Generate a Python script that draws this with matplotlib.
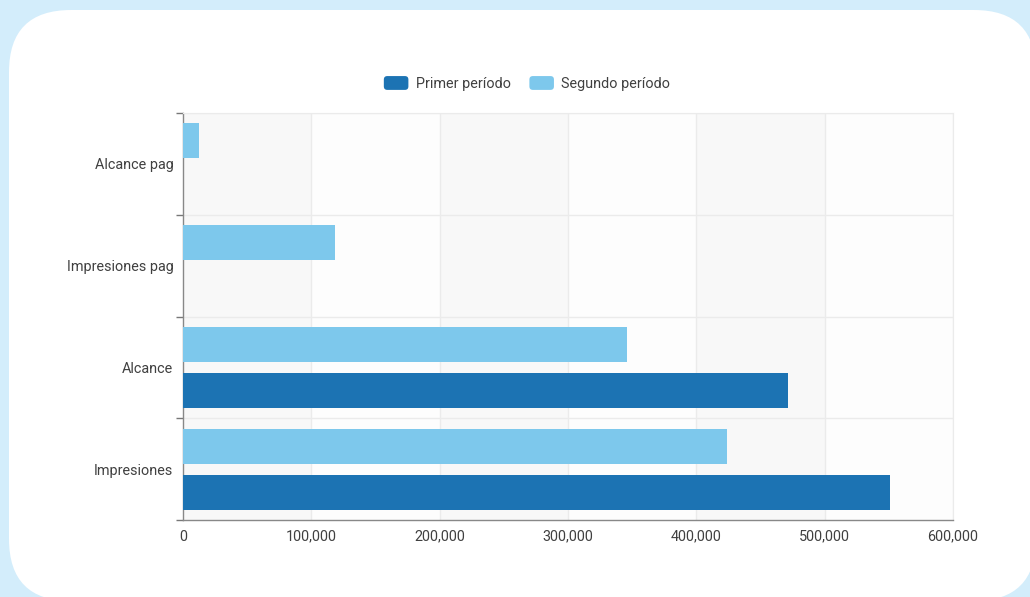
import matplotlib
matplotlib.use("Agg")
import matplotlib.pyplot as plt
from matplotlib.patches import FancyBboxPatch, Patch
from matplotlib.legend_handler import HandlerPatch
import matplotlib.transforms as mtransforms
from matplotlib.ticker import FuncFormatter, FixedLocator

plt.rcParams['font.family'] = ['Roboto', 'DejaVu Sans']

categories = ["Impresiones", "Alcance", "Impresiones pag", "Alcance pag"]
primer_periodo = [551000, 471500, 0, 0]
segundo_periodo = [424000, 346000, 118500, 12500]
series_names = ["Primer período", "Segundo período"]
xticks = [0, 100000, 200000, 300000, 400000, 500000, 600000]

dark = "#1c73b3"
light = "#7dc8ec"
text_c = "#404040"
fs = 10.4

fig = plt.figure(figsize=(10.30, 5.97), dpi=100)
fig.patch.set_facecolor("#d3edfb")

panel = FancyBboxPatch((9, -4), 1027, 591, boxstyle="round,pad=0,rounding_size=62",
                       transform=mtransforms.IdentityTransform(), facecolor="white",
                       edgecolor="none", zorder=-5)
fig.patches.append(panel)

ax = fig.add_axes([183/1030, 1-520/597, (953-183)/1030, (520-113)/597])
ax.set_facecolor("none")
ax.set_zorder(2)

# alternating column shading
for i in range(len(xticks)-1):
    ax.axvspan(xticks[i], xticks[i+1], color="#f8f8f8" if i % 2 == 0 else "#fdfdfd",
               zorder=0, lw=0)

pos = list(range(len(categories)))
h = 0.344
off = 0.226
b1 = [p - off for p in pos]
b2 = [p + off for p in pos]
ax.barh(b1, primer_periodo, height=h, color=dark, zorder=3, label=series_names[0])
ax.barh(b2, segundo_periodo, height=h, color=light, zorder=3, label=series_names[1])

ax.set_xlim(xticks[0], xticks[-1])
ax.set_ylim(-0.5, len(categories)-0.5)

ax.set_xticks(xticks)
ax.xaxis.set_major_formatter(FuncFormatter(lambda v, p: f"{int(v):,}"))
ax.tick_params(axis="x", length=0, labelsize=fs, labelcolor=text_c, pad=7)

ax.yaxis.set_major_locator(FixedLocator([p - 0.5 for p in pos] + [len(categories)-0.5]))
ax.yaxis.set_major_formatter(FuncFormatter(lambda v, p: ""))
ax.set_yticks(pos, minor=True)
ax.set_yticklabels(categories, minor=True)
ax.tick_params(axis="y", which="major", length=5, color="#777777", width=1)
ax.tick_params(axis="y", which="minor", length=0, labelsize=fs, labelcolor=text_c, pad=7)

for x in xticks[1:]:
    ax.axvline(x, color="#ebebeb", lw=1, zorder=1)
for y in [p + 0.5 for p in pos]:
    ax.axhline(y, color="#ebebeb", lw=1, zorder=1)

for s in ["top", "right"]:
    ax.spines[s].set_color("#ebebeb")
for s in ["left", "bottom"]:
    ax.spines[s].set_color("#888888")
    ax.spines[s].set_linewidth(1)


class RoundHandler(HandlerPatch):
    def create_artists(self, legend, orig_handle, xdescent, ydescent, width, height, fontsize, trans):
        p = FancyBboxPatch((-xdescent, -ydescent - 1.0), width, height + 2,
                           boxstyle="round,pad=0,rounding_size=2.5",
                           facecolor=orig_handle.get_facecolor(), edgecolor="none")
        p.set_transform(trans)
        return [p]


handles = [Patch(facecolor=dark), Patch(facecolor=light)]
fig.legend(handles, series_names, loc="center", bbox_to_anchor=(527/1030, 1-84/597),
           ncol=2, frameon=False, fontsize=fs, labelcolor=text_c,
           handler_map={Patch: RoundHandler()}, handlelength=1.7, handleheight=0.8,
           handletextpad=0.5, columnspacing=1.3)

fig.savefig("out.png", dpi=100, facecolor=fig.get_facecolor())
